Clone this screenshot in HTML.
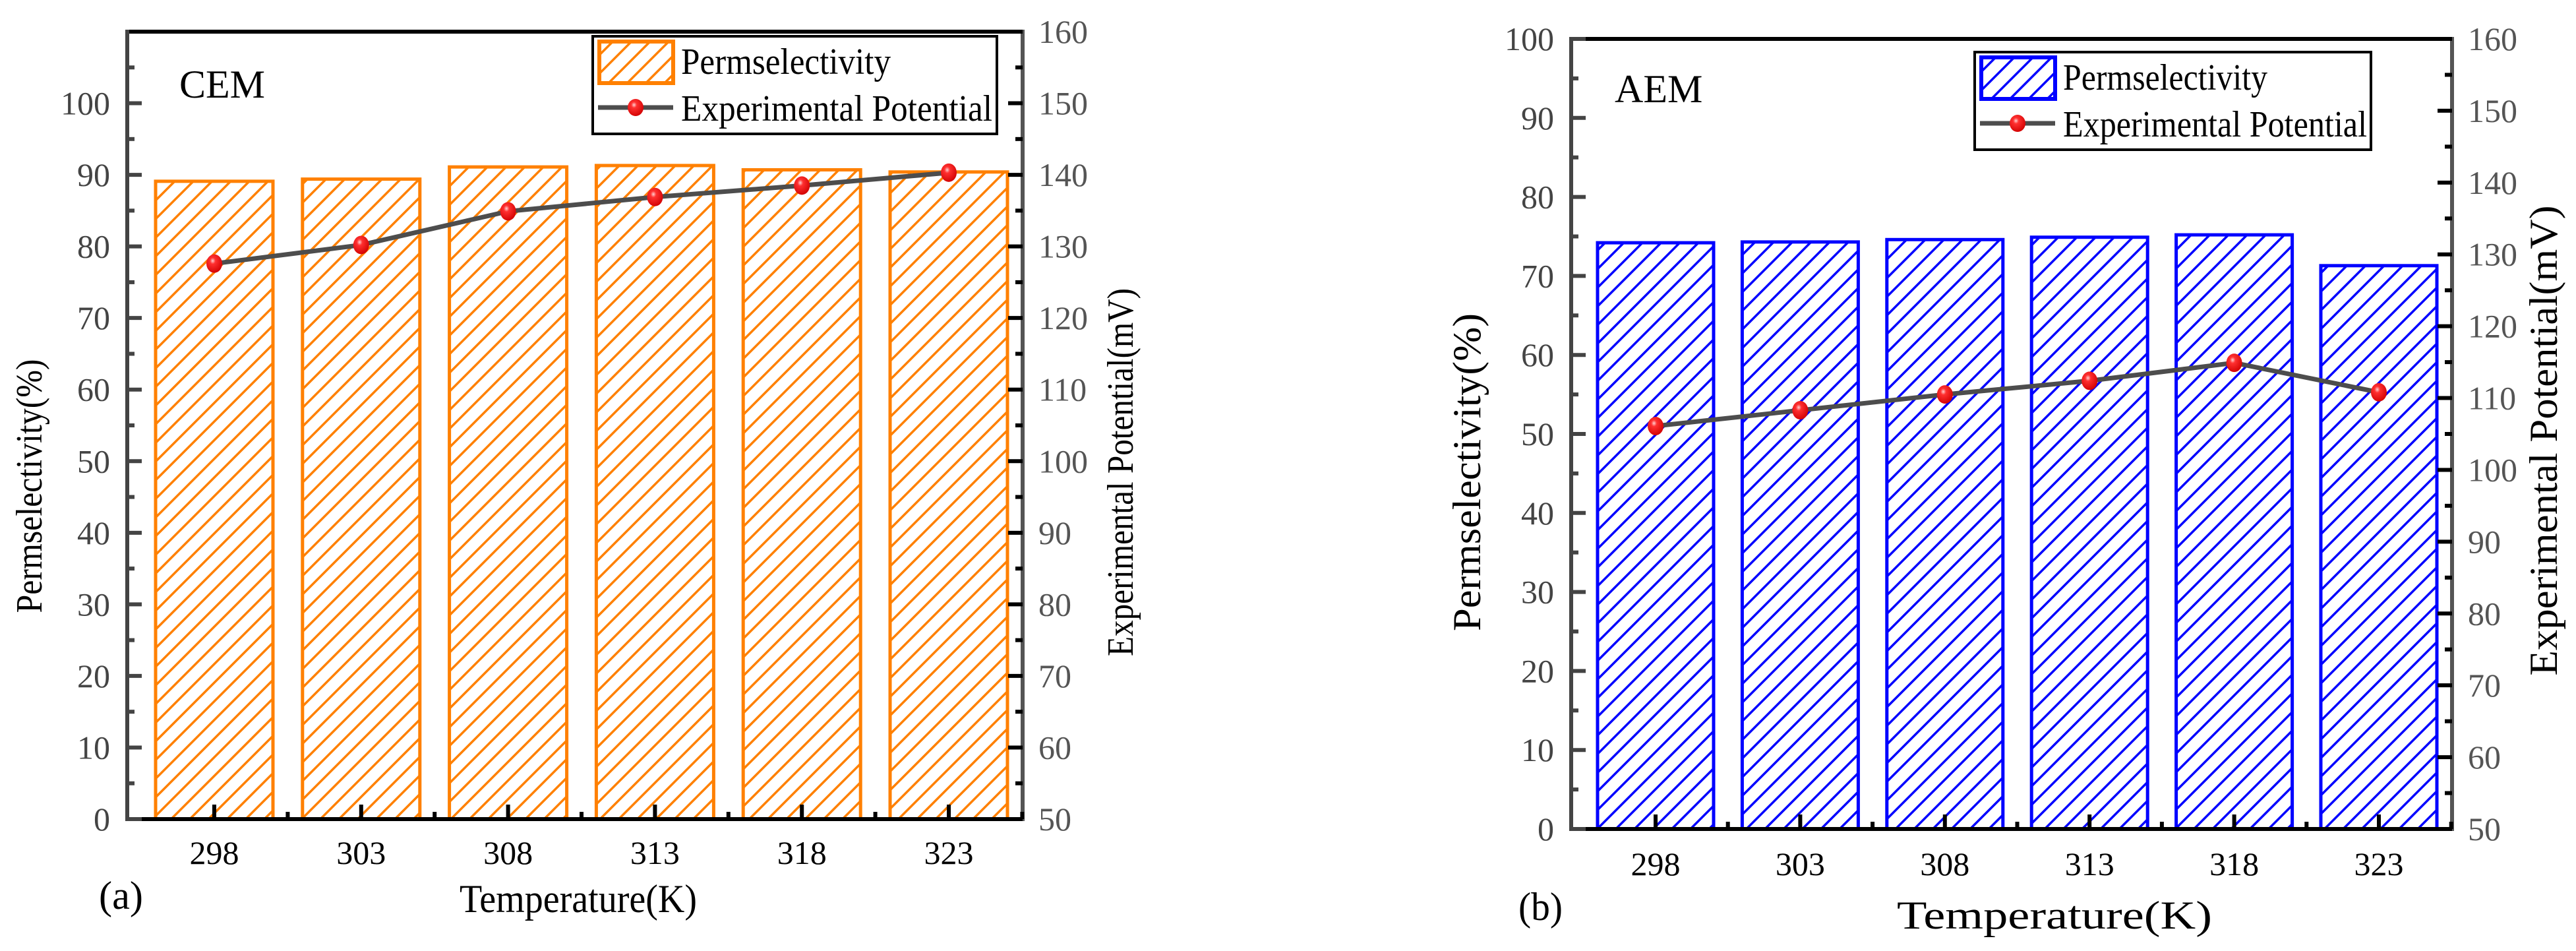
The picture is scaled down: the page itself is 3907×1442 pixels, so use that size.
<!DOCTYPE html>
<html><head><meta charset="utf-8"><style>
html,body{margin:0;padding:0;background:#fff;}
svg{display:block;}
text{font-family:"Liberation Serif","Times New Roman",serif;}
</style></head><body>
<svg id="fig" width="3907" height="1442" viewBox="0 0 3907 1442" xmlns="http://www.w3.org/2000/svg" font-family="Liberation Serif, serif">
<defs>
<pattern id="hatchA" patternUnits="userSpaceOnUse" width="20" height="20" patternTransform="rotate(45)">
<rect width="20" height="20" fill="#fff"/><line x1="0" y1="0" x2="0" y2="20" stroke="#ff8000" stroke-width="7"/></pattern>
<pattern id="hatchB" patternUnits="userSpaceOnUse" width="20" height="20" patternTransform="rotate(45)">
<rect width="20" height="20" fill="#fff"/><line x1="0" y1="0" x2="0" y2="20" stroke="#0000ff" stroke-width="7"/></pattern>
<radialGradient id="ball" cx="0.4" cy="0.35" r="0.7"><stop offset="0" stop-color="#ffd0d0"/><stop offset="0.25" stop-color="#ff3030"/><stop offset="1" stop-color="#d00000"/></radialGradient>
</defs>
</svg>
<script>
const categories = ["298","303","308","313","318","323"];
const cemPerm = [89.1, 89.4, 91.1, 91.3, 90.7, 90.4];
const cemPot = [127.6, 130.2, 134.9, 136.9, 138.5, 140.3];
const aemPerm = [74.2, 74.3, 74.6, 74.9, 75.2, 71.3];
const aemPot = [106.1, 108.3, 110.5, 112.4, 114.9, 110.8];
const leftTicks = [0,10,20,30,40,50,60,70,80,90,100];
const rightTicks = [50,60,70,80,90,100,110,120,130,140,150,160];

const NS="http://www.w3.org/2000/svg";
const svg=document.getElementById('fig');
function mk(tag,attrs,parent,text){const e=document.createElementNS(NS,tag);for(const k in attrs)e.setAttribute(k,attrs[k]);if(text!==undefined){e.textContent=text;e.setAttribute('font-family','Liberation Serif, serif');}(parent||svg).appendChild(e);return e;}

function drawChart(c){
  const g=mk('g',{});
  
  
  const yL=v=>c.bottom-(v-c.lmin)/(c.lmax-c.lmin)*(c.bottom-c.top);
  const yR=v=>c.bottom-(v-c.rmin)/(c.rmax-c.rmin)*(c.bottom-c.top);
  const xC=i=>c.x0+i*c.step;
  c.perm.forEach((v,i)=>{
    const r=mk('rect',{x:xC(i)-c.bw/2,y:yL(v),width:c.bw,height:c.bottom-yL(v),fill:'url(#'+c.hatch+')',stroke:c.color,'stroke-width':5},g);
    
    
  });
  mk('line',{x1:c.left,y1:c.top,x2:c.right,y2:c.top,stroke:'#000','stroke-width':6},g);
  mk('line',{x1:c.left,y1:c.bottom,x2:c.right,y2:c.bottom,stroke:'#000','stroke-width':6},g);
  const la=mk('line',{x1:c.left,y1:c.top-3,x2:c.left,y2:c.bottom+3,stroke:'#444','stroke-width':6},g);
  
  
  const ra=mk('line',{x1:c.right,y1:c.top-3,x2:c.right,y2:c.bottom+3,stroke:'#555','stroke-width':6},g);
  
  
  leftTicks.forEach(v=>{
    const y=yL(v);
    mk('line',{x1:c.left,y1:y,x2:c.left+22,y2:y,stroke:'#444','stroke-width':6},g);
    if(v<100) mk('line',{x1:c.left,y1:yL(v+5),x2:c.left+11,y2:yL(v+5),stroke:'#444','stroke-width':6},g);
    const t=mk('text',{x:c.left-26,y:y+17,'text-anchor':'end','font-size':c.tf,fill:'#444'},g,String(v));
    
    
  });
  if(c.lmax>100) mk('line',{x1:c.left,y1:yL(105),x2:c.left+11,y2:yL(105),stroke:'#444','stroke-width':6},g);
  rightTicks.forEach(v=>{
    const y=yR(v);
    mk('line',{x1:c.right,y1:y,x2:c.right-22,y2:y,stroke:'#000','stroke-width':6},g);
    if(v<160) mk('line',{x1:c.right,y1:yR(v+5),x2:c.right-11,y2:yR(v+5),stroke:'#000','stroke-width':6},g);
    const t=mk('text',{x:c.right+24,y:y+17,'text-anchor':'start','font-size':c.tf,fill:'#555'},g,String(v));
    
    
  });
  categories.forEach((cat,i)=>{
    const x=xC(i);
    mk('line',{x1:x,y1:c.bottom,x2:x,y2:c.bottom-22,stroke:'#000','stroke-width':6},g);
    mk('line',{x1:x+c.step/2,y1:c.bottom,x2:x+c.step/2,y2:c.bottom-11,stroke:'#000','stroke-width':6},g);
    const t=mk('text',{x:x,y:c.xlabY,'text-anchor':'middle','font-size':c.tf,fill:'#000'},g,cat);
    
    
  });
  const pts=c.pot.map((v,i)=>xC(i)+','+yR(v)).join(' ');
  const pl=mk('polyline',{points:pts,fill:'none',stroke:'#4d4d4d','stroke-width':7},g);
  
  
  c.pot.forEach((v,i)=>{
    const p=mk('ellipse',{cx:xC(i),cy:yR(v),rx:12,ry:14,fill:'url(#ball)'},g);
    
    
  });
  const L=c.leg;
  const lg=mk('g',{},g);
  
  
  mk('rect',{x:L.x,y:L.y,width:L.w,height:L.h,fill:'#fff',stroke:'#000','stroke-width':4},lg);
  mk('rect',{x:L.x+10,y:L.y+8,width:112,height:63,fill:'url(#'+c.hatch+')',stroke:c.color,'stroke-width':6},lg);
  const t1=mk('text',{x:L.x+134,y:L.y+57,'font-size':56,textLength:L.t1,lengthAdjust:'spacingAndGlyphs'},lg,'Permselectivity');
  
  
  mk('line',{x1:L.x+8,y1:L.y+108,x2:L.x+122,y2:L.y+108,stroke:'#4d4d4d','stroke-width':7},lg);
  mk('ellipse',{cx:L.x+65,cy:L.y+108,rx:12,ry:13,fill:'url(#ball)'},lg);
  const t2=mk('text',{x:L.x+134,y:L.y+128,'font-size':56,textLength:L.t2,lengthAdjust:'spacingAndGlyphs'},lg,'Experimental Potential');
  
  
  const lab=mk('text',{x:c.labX,y:c.labY,'font-size':60},g,c.label);
  
  
  const xt=mk('text',{x:c.xt[0],y:c.xt[1],'font-size':60,textLength:c.xt[2],lengthAdjust:'spacingAndGlyphs'},g,'Temperature(K)');
  
  
  const pn=mk('text',{x:c.pn[0],y:c.pn[1],'font-size':60,textLength:c.pn[2],lengthAdjust:'spacingAndGlyphs'},g,c.panel);
  
  
  const yt=mk('text',{x:0,y:0,'font-size':c.ytf,textLength:c.ylt[2],lengthAdjust:'spacingAndGlyphs','text-anchor':'middle',transform:'translate('+c.ylt[0]+','+c.ylt[1]+') rotate(-90)'},g,'Permselectivity(%)');
  
  
  const rt=mk('text',{x:0,y:0,'font-size':c.ytf,textLength:c.yrt[2],lengthAdjust:'spacingAndGlyphs','text-anchor':'middle',transform:'translate('+c.yrt[0]+','+c.yrt[1]+') rotate(-90)'},g,'Experimental Potential(mV)');
  
  
}

drawChart({name:'chart-cem',perm:cemPerm,pot:cemPot,hatch:'hatchA',color:'#ff8000',
  left:193,right:1551,top:48,bottom:1242,lmin:0,lmax:110,rmin:50,rmax:160,
  x0:325,step:222.8,bw:178,tf:50,xlabY:1310,ytf:56,
  leg:{x:899,y:55,w:613,h:148,t1:318,t2:472},
  label:'CEM',labX:272,labY:148,panel:'(a)',pn:[150,1378,67],xt:[697,1383,360],
  ylt:[63,737,385],yrt:[1718,716,558]});
drawChart({name:'chart-aem',perm:aemPerm,pot:aemPot,hatch:'hatchB',color:'#0000ff',
  left:2383,right:3719,top:59,bottom:1257,lmin:0,lmax:100,rmin:50,rmax:160,
  x0:2511,step:219.4,bw:176,tf:50,xlabY:1327,ytf:60,
  leg:{x:2995,y:79,w:601,h:148,t1:310,t2:461},
  label:'AEM',labX:2449,labY:155,panel:'(b)',pn:[2303,1395,67],xt:[2877,1408,478],
  ylt:[2245,716,482],yrt:[3878,668,713]});
</script>
</body></html>
